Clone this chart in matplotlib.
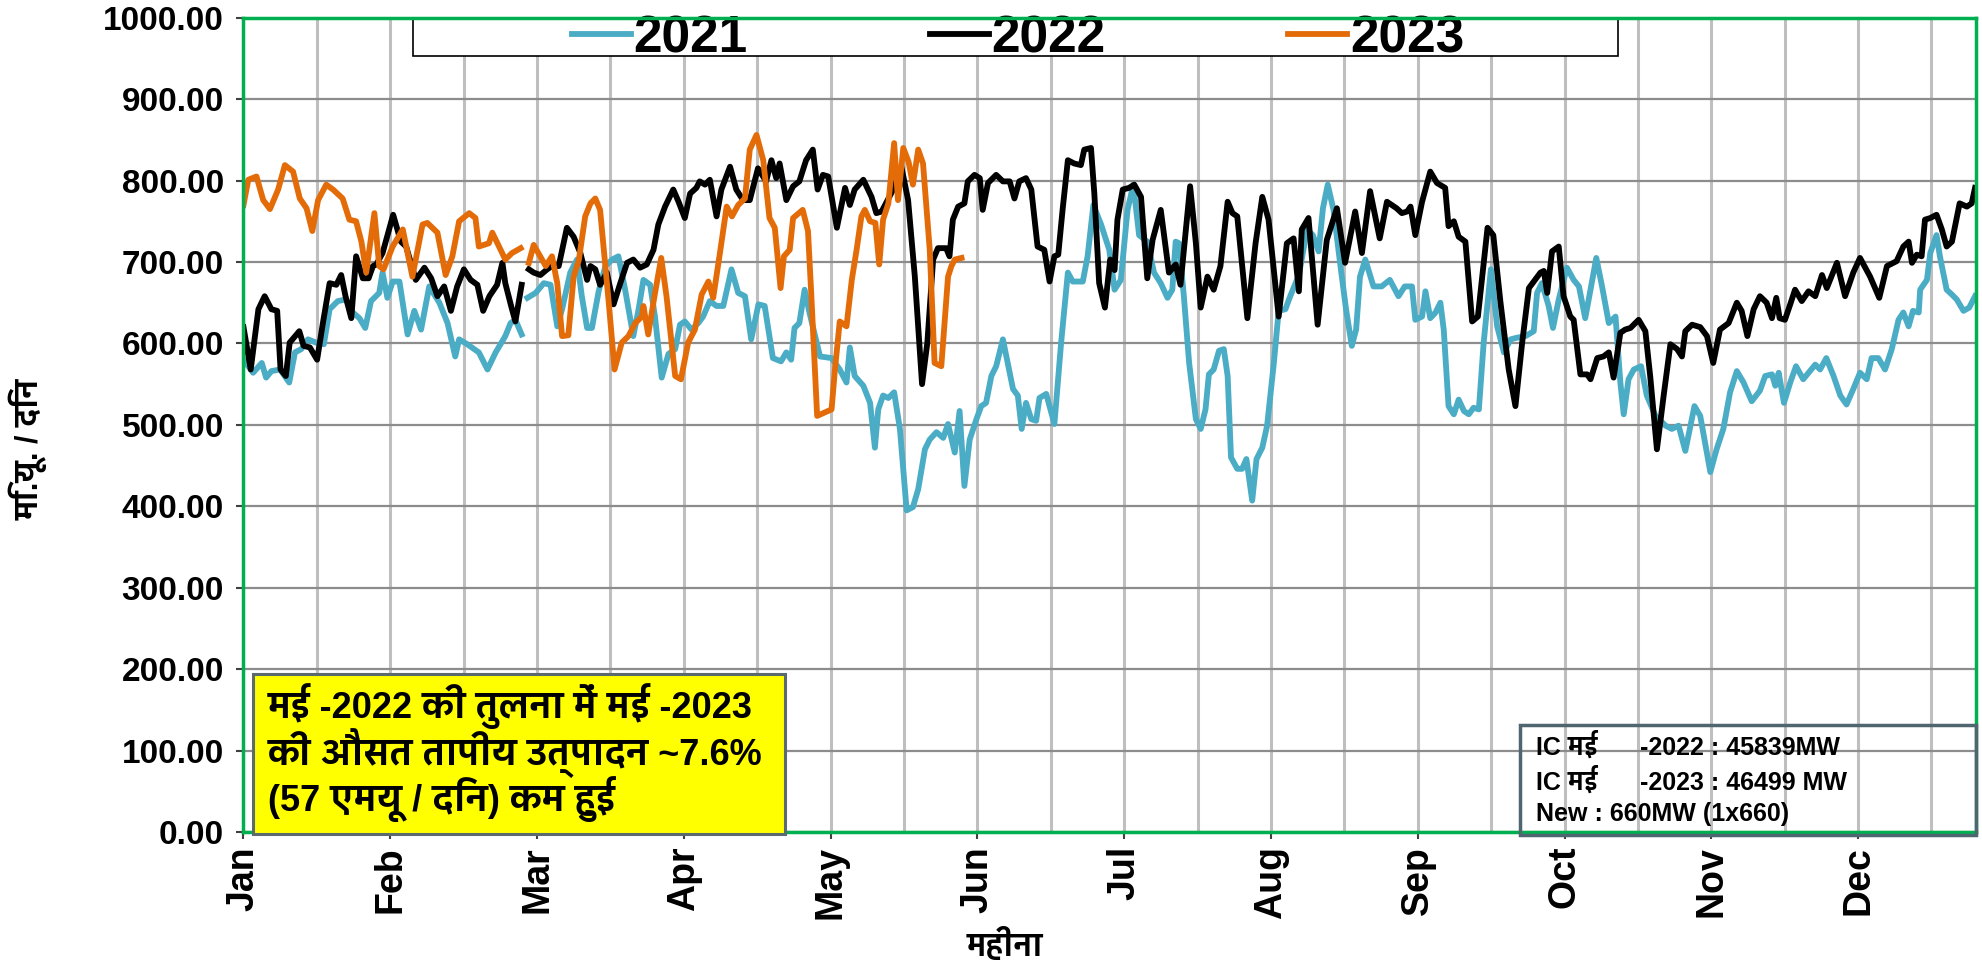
"""Daily thermal generation 2021 / 2022 / 2023 (MU per day)."""
import numpy as np
import matplotlib
matplotlib.use('Agg')
import matplotlib.pyplot as plt
from matplotlib import font_manager
from matplotlib.ft2font import FT2Font
from matplotlib.patches import Rectangle

# day-of-year position, value (nan = missing day)
nan = np.nan
D21 = [0, 2, 3.8, 4.7, 5.8, 7.6, 9.5, 10.7, 12, 13.4, 15.1, 16.7, 17.9, 19.6, 21.3, 22.7, 24.1, 25.3, 26.5, 28.2,
       28.9, 29.9, 31, 32.4, 34.1, 35.5, 36.9, 38.6, 40.7, 42.4, 44, 44.8, 46.5, 48.9, 50.7, 52.4, 54.4, 55.5, 56.5, 57.8,
       58.5, 59, 60.7, 62.4, 63.8, 65.2, 66.2, 67.9, 69.3, 70.3, 71.4, 72.4, 73.8, 75.2, 76.6, 77.9, 79.3, 81, 82.1, 83.1,
       84.5, 85.5, 86.9, 88.3, 89.7, 90.7, 91.7, 93.1, 94.5, 95.5, 96.9, 98.3, 99.7, 101.4, 102.8, 104.2, 105.5, 107, 108.3, 110,
       111.7, 112.8, 113.8, 114.5, 115.5, 116.6, 117.6, 119.8, 122.2, 123.9, 125.3, 126, 127, 128.8, 130.2, 131.2, 131.9, 132.9, 134, 135.2,
       136.4, 137.8, 139.1, 140.2, 141.6, 142.6, 144, 145.4, 146.4, 147.8, 148.8, 149.8, 150.9, 152.3, 153.3, 154.3, 155.4, 156.4, 157.8, 158.8,
       159.9, 160.9, 161.7, 162.6, 163.7, 164.7, 165.4, 166.8, 168.5, 169.9, 171.3, 172.3, 174.4, 175.4, 176.6, 178.2, 179.9, 181, 182.3, 183.7,
       184.9, 186.1, 187.8, 189.2, 190.6, 192, 193, 193.7, 194.4, 195.4, 196.5, 197.9, 198.9, 199.9, 200.6, 201.6, 202.7, 203.7, 204.5, 205.2,
       206.5, 207.5, 208.4, 209.6, 210.5, 211.7, 212.7, 214.1, 215.1, 216.5, 217.5, 219.3, 221, 222.2, 223.4, 224.3, 225.3, 226.5, 227.9, 229.1,
       230.3, 231.2, 232, 233.1, 234.8, 236.5, 238.2, 240, 241.3, 242.8, 243.5, 244.9, 245.6, 246.6, 247.7, 248.7, 249.4, 250.4, 251.5, 252.5,
       253.6, 254.6, 255.6, 256.7, 257.7, 259.2, 260.5, 261.9, 263.3, 264.6, 266.4, 268.1, 268.8, 269.8, 271.2, 272.1, 273.3, 275, 276.4, 277.5,
       278.8, 279.9, 281.1, 282.3, 283.7, 285.1, 286.1, 286.8, 287.8, 288.9, 290.4, 291.6, 293.4, 295.5, 296.8, 298.2, 299.6, 301.5, 302.7, 303.7,
       304.8, 306.1, 307.5, 308.9, 310.3, 311.7, 313.4, 315.1, 316.2, 317.6, 318.3, 319, 320.1, 321.4, 322.6, 324.1, 325.5, 326.6, 327.6, 328.9,
       330.4, 331.8, 333.1, 334.5, 335.9, 337.3, 338.3, 339.7, 341.1, 342.5, 343.9, 344.9, 346, 346.9, 348.1, 348.4, 349.8, 350.5, 351.8, 352.5,
       353.9, 355, 356, 357.4, 358.6, 359.8]
V21 = [580, 564, 576, 558, 566, 568, 552, 589, 593, 605, 601, 599, 642, 652, 654, 638, 631, 619, 652, 662,
       687, 656, 676, 676, 611, 640, 617, 670, 650, 625, 584, 605, 599, 589, 568, 589, 609, 625, 629, 611,
       nan, 656, 662, 674, 672, 621, 642, 687, 703, 658, 619, 619, 664, 695, 703, 707, 666, 609, 642, 678,
       672, 633, 558, 587, 593, 623, 627, 617, 625, 633, 652, 646, 646, 691, 662, 658, 605, 648, 646, 582,
       578, 589, 580, 619, 625, 666, 638, 584, 582, 568, 552, 595, 560, 548, 527, 472, 519, 536, 533, 540,
       495, 395, 399, 421, 470, 482, 491, 484, 501, 466, 517, 425, 482, 507, 523, 527, 560, 572, 605, 576,
       544, 536, 495, 527, 507, 505, 533, 538, 501, 601, 687, 676, 676, 707, 770, 746, 715, 666, 678, 764,
       795, 733, 725, 687, 674, 656, 666, 725, 723, 658, 576, 507, 495, 519, 562, 568, 591, 593, 560, 460,
       446, 446, 458, 407, 458, 472, 499, 576, 640, 642, 658, 684, 740, 733, 713, 766, 795, 764, 697, 642,
       597, 617, 682, 703, 670, 670, 678, 658, 670, 670, 629, 633, 664, 631, 638, 650, 617, 523, 513, 531,
       517, 513, 521, 519, 601, 691, 621, 589, 605, 607, 609, 615, 662, 674, 646, 619, 654, 693, 678, 670,
       631, 666, 705, 670, 625, 633, 552, 513, 556, 568, 572, 536, 511, 499, 495, 499, 468, 523, 511, 478,
       442, 470, 495, 540, 566, 552, 529, 542, 560, 562, 548, 564, 527, 552, 572, 556, 566, 574, 568, 582,
       560, 536, 525, 544, 564, 556, 582, 582, 568, 593, 629, 638, 621, 640, 638, 666, 678, 711, 733, 707,
       666, 660, 654, 640, 644, 658]

D22 = [0, 1.5, 3.1, 4.4, 5.8, 7, 7.7, 8.8, 9.6, 11.6, 12.5, 13.8, 15.3, 16.5, 17.9, 19.3, 20.3, 21.2, 22.4, 23.4,
       24.8, 26, 26.9, 27.6, 28.9, 31.1, 32.7, 33.8, 35.8, 37.6, 39, 40.3, 41.7, 43.1, 44.4, 45.8, 47.2, 48.6, 49.8, 51.1,
       52.7, 53.8, 54.4, 55.7, 56.5, 57.8, 58.5, 59.3, 60.3, 61.7, 63.1, 64.1, 65.5, 67.2, 68.6, 70, 71.4, 72.1, 73.1, 74.1,
       75.5, 76.9, 78.3, 79.7, 81, 82.4, 83.8, 85.2, 86.2, 87.6, 89.3, 90.4, 91.7, 92.8, 94.1, 94.8, 95.9, 96.9, 98.3, 99.3,
       101.1, 102.4, 103.8, 105.2, 106.9, 108.6, 109.7, 110.7, 111.4, 112.8, 114.2, 115.5, 116.9, 118.3, 119.3, 120.4, 121.5, 123.3, 125, 126,
       127, 128.8, 130.5, 131.5, 132.6, 135, 136.7, 138.1, 139.5, 141, 142.1, 143.3, 144.3, 146, 146.7, 147.4, 148.5, 149.8, 150.5, 151.9,
       153, 153.6, 154.7, 156.4, 157.8, 159.2, 160.2, 161.2, 162.6, 163.7, 165, 166.4, 167.5, 168.5, 169.3, 170.2, 171.3, 172.6, 174, 174.7,
       176.1, 176.8, 177.8, 179, 180.1, 181, 181.6, 182.7, 184, 185.1, 186.5, 187.8, 188.9, 190.6, 192.3, 193.7, 194.7, 196.7, 197.9, 198.9,
       200.3, 201.6, 203, 204.5, 205.5, 206.5, 208.6, 210.3, 211.7, 213, 215.1, 216.8, 218.2, 219.3, 219.9, 221.3, 223.2, 225.1, 227.2, 228.9,
       231, 232.4, 234.1, 236.1, 237.6, 239.6, 240.7, 241.8, 242.5, 243.5, 244.9, 246.6, 248, 249.7, 250.4, 251.5, 252.5, 253.9, 255.3, 256.5,
       258.5, 259.7, 261.2, 262.9, 264.3, 265.7, 267.1, 268.1, 269.5, 270.2, 270.9, 271.9, 273.3, 274.3, 275.7, 276.4, 277.8, 279.2, 279.9, 281.3,
       282.6, 283.7, 284.7, 286.1, 287.1, 288.2, 289.9, 291.3, 292.3, 293.7, 295.1, 296.5, 297.9, 298.9, 299.6, 301, 302.7, 304.1, 305.4, 306.8,
       308.6, 310.3, 311.3, 312.5, 313.8, 315.1, 316.5, 317.6, 318.5, 319.2, 320.3, 321.4, 322.4, 323.8, 325.2, 326.6, 328, 329, 331.1, 332.8,
       334.5, 335.9, 338, 339.9, 341.5, 343.5, 344.9, 346, 346.7, 347.7, 348.7, 349.4, 350.5, 351.8, 352.9, 353.9, 355, 356.6, 358.1, 359.1,
       359.8]
V22 = [620, 568, 642, 658, 642, 640, 568, 560, 601, 615, 597, 595, 580, 625, 674, 672, 684, 658, 631, 707,
       680, 680, 695, 697, 711, 758, 725, 719, 678, 693, 680, 658, 670, 640, 670, 691, 678, 672, 640, 658,
       672, 699, 674, 644, 627, 672, nan, 691, 687, 684, 691, 695, 695, 742, 731, 711, 678, 695, 691, 672,
       687, 648, 674, 699, 703, 693, 697, 715, 746, 768, 789, 774, 754, 784, 791, 799, 795, 801, 756, 789,
       817, 789, 776, 776, 815, 799, 825, 803, 821, 776, 793, 799, 825, 838, 789, 807, 805, 742, 791, 770,
       789, 801, 780, 760, 762, 789, 817, 776, 682, 550, 601, 703, 717, 717, 707, 752, 768, 772, 799, 807,
       803, 764, 797, 807, 799, 799, 778, 799, 803, 789, 719, 715, 676, 707, 709, 764, 825, 821, 819, 838,
       840, 784, 674, 644, 703, 690, 752, 789, 791, 795, 780, 680, 727, 764, 687, 697, 672, 793, 723, 644,
       682, 666, 695, 774, 760, 756, 631, 723, 780, 752, 633, 723, 729, 664, 740, 754, 623, 727, 766, 699,
       762, 711, 787, 729, 774, 766, 760, 762, 768, 733, 774, 811, 797, 791, 744, 750, 731, 725, 627, 633,
       742, 733, 650, 568, 523, 601, 668, 676, 687, 689, 662, 713, 719, 658, 633, 629, 562, 562, 556, 582,
       584, 589, 558, 613, 617, 619, 629, 615, 560, 470, 536, 599, 593, 584, 615, 623, 620, 609, 576, 617,
       625, 650, 640, 609, 642, 658, 650, 631, 656, 631, 629, 648, 666, 652, 664, 658, 684, 668, 699, 658,
       687, 705, 682, 656, 695, 701, 719, 725, 699, 709, 707, 752, 754, 758, 740, 719, 725, 772, 768, 772,
       791]

D23 = [0, 1, 2.7, 4.1, 5.5, 7.2, 8.6, 10.3, 11.7, 13.1, 14.3, 15.5, 17.2, 18.6, 20.6, 22, 23.4, 24.5, 25.5, 27.2,
       28.2, 29.1, 31, 33.1, 35.1, 37.2, 38.2, 40.3, 42, 43.4, 44.8, 46.9, 48.2, 48.9, 51, 51.7, 53.1, 54.4, 55.8, 57.6,
       58.5, 59.3, 60.3, 62.8, 64.1, 65.2, 66.2, 67.5, 68.6, 69.7, 71, 72.1, 73.1, 74.1, 75.9, 77.1, 78.6, 80, 81.4, 82.8,
       83.1, 84.1, 85.4, 86.8, 87.9, 89.7, 90.9, 92.4, 93.8, 95.2, 96.6, 97.6, 99, 100.4, 101.5, 102.8, 104.2, 105.2, 106.6, 108,
       109.3, 110.4, 111.6, 112.3, 113.5, 114.2, 116.2, 117.3, 118, 119.2, 122.2, 122.9, 123.9, 125.3, 126.4, 127.4, 128.4, 129.1, 130.2, 131.3,
       132.1, 132.9, 134, 135.2, 136, 137.1, 138.2, 139.1, 140.2, 141.2, 142.6, 143.6, 145, 146.4, 147.1, 147.8, 149.2]
V23 = [770, 801, 805, 776, 765, 789, 819, 811, 778, 766, 738, 776, 795, 789, 778, 752, 750, 725, 687, 760,
       695, 691, 719, 740, 682, 746, 748, 736, 684, 707, 750, 760, 754, 719, 723, 736, 719, 703, 711, 717,
       nan, 699, 721, 695, 707, 674, 609, 610, 682, 703, 756, 772, 778, 764, 650, 568, 601, 609, 625, 633,
       646, 611, 658, 705, 658, 560, 556, 601, 617, 660, 676, 656, 711, 768, 756, 770, 778, 838, 856, 825,
       754, 742, 668, 707, 715, 754, 764, 738, 658, 511, 519, 568, 627, 621, 678, 715, 756, 764, 750, 748,
       697, 752, 772, 846, 776, 840, 823, 795, 838, 821, 715, 576, 572, 682, 695, 703, 705]

MONTHS = ['Jan', 'Feb', 'Mar', 'Apr', 'May', 'Jun', 'Jul', 'Aug', 'Sep', 'Oct', 'Nov', 'Dec']
C21 = '#4BACC6'; C22 = '#000000'; C23 = '#E36C09'; GREEN = '#00B050'

BOX_TEXT = 'मई -2022 की तुलना में मई -2023\nकी औसत तापीय उत्पादन ~7.6%\n(57 एमयू / दिन) कम हुई'
IC_ROWS = [('IC मई', '-2022 : 45839MW'), ('IC मई', '-2023 : 46499 MW'), ('New : 660MW (1x660)', '')]


def find_deva():
    # installed fonts that really have Devanagari glyphs; prefer one with a bold face
    found = {}
    for f in font_manager.fontManager.ttflist:
        try:
            if 0x092E in FT2Font(f.fname).get_charmap():
                w = f.weight if isinstance(f.weight, int) else 400
                found[f.name] = max(found.get(f.name, 0), w)
        except Exception:
            pass
    if not found:
        return None
    return sorted(found, key=lambda n: (-(found[n] >= 600), 'deva' not in n.lower()))[0]


deva = find_deva()
FAM = ['Liberation Sans'] + ([deva] if deva else [])
plt.rcParams['font.family'] = FAM

fig = plt.figure(figsize=(19.82, 9.65), dpi=100)
ax = fig.add_axes([0.12285, 0.13782, 0.87412, 0.84383])

l21, = ax.plot(D21, V21, color=C21, lw=4.2, label='2021')
l22, = ax.plot(D22, V22, color=C22, lw=4.2, label='2022')
l23, = ax.plot(D23, V23, color=C23, lw=4.2, label='2023')

ax.set_xlim(0, 360)
ax.set_ylim(0, 1000)
ax.set_yticks(np.arange(0, 1001, 100))
ax.set_yticklabels([f'{v:.2f}' for v in range(0, 1001, 100)], fontsize=24, fontweight='bold')
ax.set_xticks([i * 30.5 for i in range(12)])
ax.set_xticklabels(MONTHS, rotation=90, fontsize=27, fontweight='bold')
ax.set_xticks([15.25 + i * 30.5 for i in range(12)], minor=True)
ax.tick_params(axis='y', direction='out', length=5, width=1.5, color='#404040', pad=9)
ax.tick_params(axis='x', which='major', direction='out', length=5, width=1.5, color='#404040', pad=5)
ax.tick_params(axis='x', which='minor', length=0)

ax.grid(axis='x', which='both', color='#BFBFBF', lw=2.2)
ax.grid(axis='y', which='major', color='#8C8C8C', lw=1.6)
ax.set_axisbelow(True)
for s in ax.spines.values():
    s.set_color(GREEN); s.set_linewidth(2.5); s.set_zorder(6)

ax.set_xlabel('महीना', fontsize=22, fontweight='bold')
ax.xaxis.set_label_coords(0.4395, -0.14)
ax.xaxis.label.set_va('center')
ax.set_ylabel('मि.यू. / दिन', fontsize=22, fontweight='bold')
ax.yaxis.set_label_coords(-0.1244, 0.47)
ax.yaxis.label.set_va('center')

# legend box spanning top of the plot
ax.add_patch(Rectangle((0.0978, 0.953), 0.6956, 0.045, transform=ax.transAxes,
                       fc='white', ec='black', lw=1.2, zorder=4, clip_on=False))
ax.legend(handles=[l21, l22, l23], loc='center', bbox_to_anchor=(0.447, 0.974), ncol=3,
          frameon=False, prop={'size': 37, 'weight': 'bold'}, handlelength=1.15,
          handletextpad=0.05, columnspacing=3.55, borderaxespad=0, borderpad=0)

# yellow note
ax.add_patch(Rectangle((0.0055, -0.0025), 0.3071, 0.1965, transform=ax.transAxes,
                       fc='#FFFF00', ec='#5A6A70', lw=2.2, zorder=7, clip_on=False))
ax.text(0.0141, 0.0975, BOX_TEXT, transform=ax.transAxes, ha='left', va='center',
        fontsize=26, fontweight='bold', linespacing=0.97, zorder=8)

# installed capacity box
ax.add_patch(Rectangle((0.7368, -0.0037), 0.2632, 0.1351, transform=ax.transAxes,
                       fc='none', ec='#4F6670', lw=2.5, zorder=7, clip_on=False))
for (a, b), y in zip(IC_ROWS, [0.0946, 0.0516, 0.0135]):
    ax.text(0.7463, y, a, transform=ax.transAxes, ha='left', va='baseline',
            fontsize=18, fontweight='bold', zorder=8)
    if b:
        ax.text(0.806, y, b, transform=ax.transAxes, ha='left', va='baseline',
                fontsize=18, fontweight='bold', zorder=8)

fig.savefig('out.png', dpi=100)
